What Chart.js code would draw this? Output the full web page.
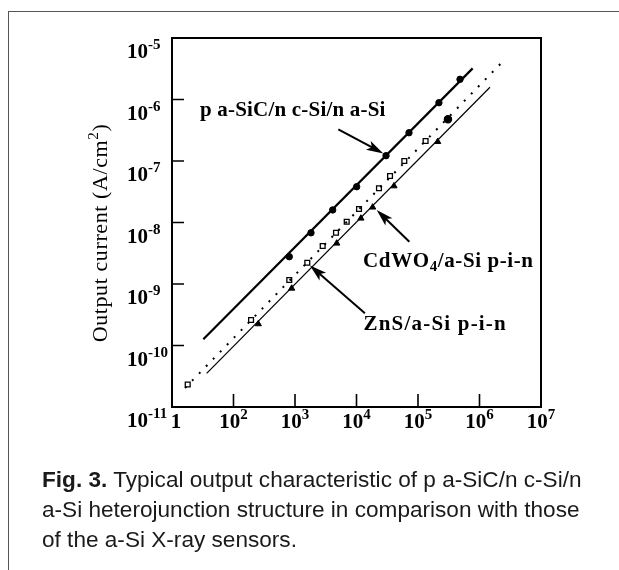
<!DOCTYPE html>
<html>
<head>
<meta charset="utf-8">
<script src="https://cdn.jsdelivr.net/npm/chart.js@4.4.0/dist/chart.umd.min.js"></script>
<style>
html, body { margin: 0; padding: 0; background: #fff; }
body { width: 619px; height: 570px; position: relative; overflow: hidden; }
#frame { position: absolute; left: 8px; top: 11px; width: 640px; height: 600px; border-left: 1px solid #555; border-top: 1px solid #555; }
#chart { position: absolute; left: 0; top: 0; }
#caption { position: absolute; left: 42px; top: 465px; white-space: nowrap; font-family: 'Liberation Sans', Arial, sans-serif; font-size: 22.6px; line-height: 30px; color: #1a1a1a; }
</style>
</head>
<body>
<div id="frame"></div>
<canvas id="chart" width="619" height="570"></canvas>
<div id="caption"><b>Fig. 3.</b> Typical output characteristic of p a-SiC/n c-Si/n<br>a-Si heterojunction structure in comparison with those<br>of the a-Si X-ray sensors.</div>
<script>
// axes
const xTicks = [10, 1e2, 1e3, 1e4, 1e5, 1e6, 1e7];
const xTickBase = ['1', '10', '10', '10', '10', '10', '10'];
const xTickExp = ['', '2', '3', '4', '5', '6', '7'];
const yTicks = [1e-5, 1e-6, 1e-7, 1e-8, 1e-9, 1e-10, 1e-11];
const yTickExp = ['-5', '-6', '-7', '-8', '-9', '-10', '-11'];
const yTitle = 'Output current (A/cm';

// p a-SiC/n c-Si/n a-Si (circles + fitted line)
const circX = [807, 1820, 4100, 10070, 30200, 71400, 219000, 482000];
const circY = [2.78e-9, 6.8e-9, 1.6e-8, 3.82e-8, 1.22e-7, 2.88e-7, 8.87e-7, 2.13e-6];
const fitAX = [32.3, 774000];
const fitAY = [1.26e-10, 3.21e-6];

// CdWO4/a-Si p-i-n (squares + dotted line)
const sqX = [18.0, 193, 807, 1585, 2820, 4640, 6930, 10990, 23200, 35100, 59900, 133000, 307000];
const sqY = [2.32e-11, 2.6e-10, 1.16e-9, 2.22e-9, 4.15e-9, 6.83e-9, 1.03e-8, 1.66e-8, 3.6e-8, 5.7e-8, 1.0e-7, 2.11e-7, 4.76e-7];
const fitBX = [16.3, 2.24e6];
const fitBY = [2.04e-11, 3.88e-6];

// ZnS/a-Si p-i-n (triangles + thin line)
const triX = [253, 883, 4770, 11800, 18300, 40700, 209000];
const triY = [2.24e-10, 8.5e-10, 4.59e-9, 1.17e-8, 1.77e-8, 3.92e-8, 2.06e-7];
const fitCX = [36.6, 1.48e6];
const fitCY = [3.53e-11, 1.58e-6];

// labels with arrows: text anchor and arrow tail/tip, in data units
const notes = [
    { text: 'p a-SiC/n c-Si/n a-Si', sub: '', rest: '', gap: 0.2, at: [28.5, 5.4e-7], tail: [5060, 3.27e-7], tip: [27300, 1.33e-7] },
    { text: 'CdWO', sub: '4', rest: '/a-Si p-i-n', gap: 0.6, at: [12800, 1.89e-9], tail: [72300, 4.88e-9], tip: [21300, 1.6e-8] },
    { text: 'ZnS/a-Si p-i-n', sub: '', rest: '', gap: 1.2, at: [13000, 1.79e-10], tail: [13700, 3.34e-10], tip: [1750, 2.0e-9] }
];

const pts = (xs, ys) => xs.map((x, i) => ({ x: x, y: ys[i] }));
const serif = "'Liberation Serif', 'Times New Roman', serif";

function drawPow(c, base, exp, x, y, align) {
    c.font = 'bold 21px ' + serif;
    const wb = c.measureText(base).width;
    c.font = 'bold 15px ' + serif;
    const we = exp ? c.measureText(exp).width : 0;
    let x0 = x;
    if (align === 'center') x0 = x - (wb + we) / 2;
    c.textAlign = 'left';
    c.font = 'bold 21px ' + serif;
    c.fillText(base, x0, y);
    if (exp) {
        c.font = 'bold 15px ' + serif;
        c.fillText(exp, x0 + wb, y - 9);
    }
}

function arrow(c, x1, y1, x2, y2) {
    const a = Math.atan2(y2 - y1, x2 - x1);
    c.lineWidth = 2;
    c.beginPath();
    c.moveTo(x1, y1);
    c.lineTo(x2 - 10 * Math.cos(a), y2 - 10 * Math.sin(a));
    c.stroke();
    c.beginPath();
    c.moveTo(x2, y2);
    c.lineTo(x2 - 17 * Math.cos(a) + 5 * Math.sin(a), y2 - 17 * Math.sin(a) - 5 * Math.cos(a));
    c.lineTo(x2 - 13 * Math.cos(a), y2 - 13 * Math.sin(a));
    c.lineTo(x2 - 17 * Math.cos(a) - 5 * Math.sin(a), y2 - 17 * Math.sin(a) + 5 * Math.cos(a));
    c.closePath();
    c.fill();
}

const decor = {
    id: 'decor',
    afterDraw(chart) {
        const c = chart.ctx, a = chart.chartArea;
        const sx = chart.scales.x, sy = chart.scales.y;
        c.save();
        c.strokeStyle = '#000';
        c.fillStyle = '#000';
        c.lineWidth = 2;
        c.strokeRect(a.left, a.top, a.right - a.left, a.bottom - a.top);

        // inward ticks
        c.lineWidth = 1.6;
        c.beginPath();
        yTicks.slice(1, -1).forEach(v => {
            const p = sy.getPixelForValue(v);
            c.moveTo(a.left, p); c.lineTo(a.left + 12, p);
        });
        xTicks.slice(1, -1).forEach(v => {
            const p = sx.getPixelForValue(v);
            c.moveTo(p, a.bottom); c.lineTo(p, a.bottom - 13);
        });
        c.stroke();

        c.textBaseline = 'alphabetic';
        yTicks.forEach((v, i) => {
            const p = sy.getPixelForValue(v);
            drawPow(c, '10', yTickExp[i], 127, p + 20, 'left');
        });
        xTicks.forEach((v, i) => {
            const p = sx.getPixelForValue(v);
            drawPow(c, xTickBase[i], xTickExp[i], i === 0 ? p + 4 : p, a.bottom + 21, 'center');
        });

        // y title
        c.save();
        c.translate(107, 233);
        c.rotate(-Math.PI / 2);
        c.letterSpacing = '0.6px';
        c.font = '22px ' + serif;
        const w1 = c.measureText(yTitle).width;
        c.font = '15px ' + serif;
        const w2 = c.measureText('2').width;
        c.font = '22px ' + serif;
        const w3 = c.measureText(')').width;
        let x0 = -(w1 + w2 + w3) / 2;
        c.textAlign = 'left';
        c.fillText(yTitle, x0, 0);
        c.font = '15px ' + serif;
        c.fillText('2', x0 + w1, -9);
        c.font = '22px ' + serif;
        c.fillText(')', x0 + w1 + w2, 0);
        c.restore();

        // annotations
        notes.forEach(n => {
            const tx = sx.getPixelForValue(n.at[0]), ty = sy.getPixelForValue(n.at[1]);
            c.textAlign = 'left';
            c.letterSpacing = n.gap + 'px';
            c.font = 'bold 21px ' + serif;
            c.fillText(n.text, tx, ty);
            if (n.sub) {
                const w = c.measureText(n.text).width;
                c.font = 'bold 15px ' + serif;
                c.fillText(n.sub, tx + w, ty + 4);
                const ws = c.measureText(n.sub).width;
                c.font = 'bold 21px ' + serif;
                c.fillText(n.rest, tx + w + ws, ty);
            }
            c.letterSpacing = '0px';
            arrow(c, sx.getPixelForValue(n.tail[0]), sy.getPixelForValue(n.tail[1]),
                sx.getPixelForValue(n.tip[0]), sy.getPixelForValue(n.tip[1]));
        });
        c.restore();
    }
};

const sqStyle = sqX.map((x, i) => i === sqX.length - 1 ? 'circle' : 'rect');

new Chart(document.getElementById('chart').getContext('2d'), {
    type: 'scatter',
    data: {
        datasets: [
            { data: pts(fitAX, fitAY), showLine: true, borderColor: '#000', borderWidth: 2.2, pointRadius: 0 },
            { data: pts(fitBX, fitBY), showLine: true, borderColor: '#000', borderWidth: 2, borderDash: [2, 8], pointRadius: 0 },
            { data: pts(fitCX, fitCY), showLine: true, borderColor: '#000', borderWidth: 1.2, pointRadius: 0 },
            { data: pts(circX, circY), pointStyle: 'circle', pointRadius: 3.2, backgroundColor: '#000', borderColor: '#000', borderWidth: 1 },
            {
                data: pts(sqX, sqY), pointStyle: sqStyle,
                pointRadius: sqX.map((x, i) => i === sqX.length - 1 ? 3.6 : 3.4),
                backgroundColor: sqX.map((x, i) => i === sqX.length - 1 ? '#000' : '#fff'),
                borderColor: '#000', borderWidth: 1.3
            },
            { data: pts(triX, triY), pointStyle: 'triangle', pointRadius: 3.6, backgroundColor: '#000', borderColor: '#000', borderWidth: 1 }
        ]
    },
    options: {
        responsive: false,
        animation: false,
        layout: { padding: { left: 172, top: 38, right: 78, bottom: 163 } },
        plugins: { legend: { display: false }, tooltip: { enabled: false } },
        scales: {
            x: { type: 'logarithmic', min: 10, max: 1e7, display: false },
            y: { type: 'logarithmic', min: 1e-11, max: 1e-5, display: false }
        }
    },
    plugins: [decor]
});
</script>
</body>
</html>
